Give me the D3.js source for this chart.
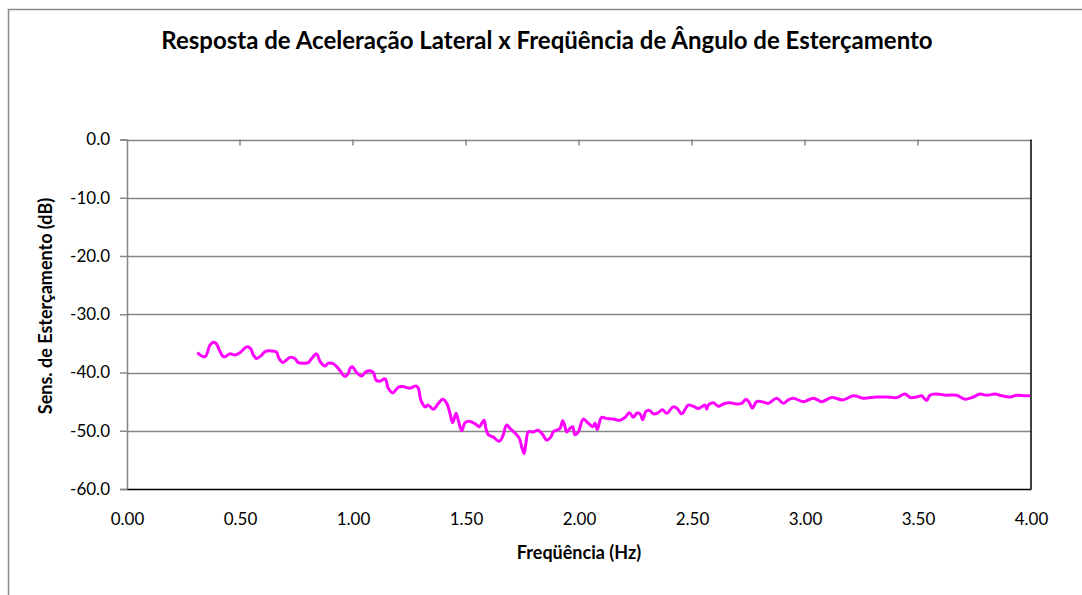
<!DOCTYPE html>
<html><head><meta charset="utf-8">
<script src="https://cdn.jsdelivr.net/npm/d3@7"></script>
<style>
html,body{margin:0;padding:0;background:#fff;}
svg{display:block;}
text{font-family:Lato,"Open Sans",sans-serif;fill:#000;}
</style></head>
<body>
<svg id="chart" width="1082" height="595"></svg>
<script>
const titleText = "Resposta de Aceleração Lateral x Freqüência de Ângulo de Esterçamento";
const xTitle = "Freqüência (Hz)";
const yTitle = "Sens. de Esterçamento (dB)";
const xTicks = [0, 0.5, 1.0, 1.5, 2.0, 2.5, 3.0, 3.5, 4.0];
const xTickLabels = ["0.00", "0.50", "1.00", "1.50", "2.00", "2.50", "3.00", "3.50", "4.00"];
const yTicks = [0, -10, -20, -30, -40, -50, -60];
const yTickLabels = ["0.0", "-10.0", "-20.0", "-30.0", "-40.0", "-50.0", "-60.0"];

const freq = [0.311,0.345,0.367,0.382,0.394,0.408,0.424,0.434,0.455,0.478,0.500,0.530,0.547,0.559,0.574,0.596,0.611,0.640,0.662,0.670,0.689,0.704,0.721,0.743,0.758,0.788,0.802,0.817,0.839,0.854,0.876,0.891,0.913,0.935,0.950,0.965,0.980,0.987,0.997,1.016,1.038,1.057,1.075,1.090,1.102,1.119,1.142,1.156,1.176,1.201,1.220,1.252,1.279,1.289,1.300,1.319,1.333,1.355,1.378,1.397,1.415,1.429,1.441,1.456,1.466,1.481,1.496,1.518,1.540,1.559,1.570,1.580,1.588,1.599,1.621,1.648,1.662,1.680,1.695,1.717,1.736,1.746,1.757,1.765,1.776,1.798,1.820,1.840,1.857,1.875,1.886,1.901,1.916,1.928,1.938,1.946,1.960,1.972,1.982,1.997,2.019,2.041,2.061,2.071,2.081,2.100,2.123,2.152,2.181,2.204,2.223,2.240,2.255,2.270,2.282,2.296,2.311,2.329,2.346,2.370,2.388,2.417,2.435,2.454,2.484,2.506,2.528,2.558,2.565,2.572,2.594,2.616,2.638,2.668,2.698,2.720,2.739,2.754,2.767,2.786,2.808,2.838,2.875,2.904,2.926,2.948,2.992,3.037,3.074,3.118,3.169,3.214,3.258,3.317,3.361,3.406,3.442,3.467,3.494,3.516,3.538,3.553,3.582,3.627,3.671,3.708,3.745,3.774,3.804,3.841,3.870,3.907,3.937,3.973,3.996];
const sens = [-36.6,-37.3,-35.3,-34.8,-35.0,-36.1,-37.2,-37.3,-36.8,-37.0,-36.6,-35.6,-35.9,-37.0,-37.6,-37.0,-36.4,-36.3,-36.5,-37.4,-38.3,-37.9,-37.4,-37.6,-38.3,-38.4,-38.3,-37.6,-36.8,-38.1,-38.9,-38.4,-38.5,-39.3,-40.1,-40.7,-40.1,-39.3,-39.0,-40.0,-40.6,-39.9,-39.7,-40.0,-41.3,-41.5,-41.1,-42.7,-43.5,-42.5,-42.4,-42.7,-42.3,-42.7,-44.7,-45.9,-45.6,-46.3,-45.3,-44.6,-45.3,-47.0,-48.6,-47.0,-48.2,-50.0,-48.6,-48.4,-48.8,-49.3,-48.7,-48.2,-49.6,-50.7,-51.1,-51.8,-51.0,-49.0,-49.6,-50.4,-51.3,-52.7,-53.9,-52.2,-50.2,-50.2,-49.9,-50.7,-51.6,-51.1,-50.2,-49.9,-49.6,-48.3,-49.3,-50.2,-49.6,-49.3,-50.7,-50.2,-48.0,-48.7,-49.3,-48.7,-49.8,-47.7,-47.9,-48.0,-48.2,-47.7,-46.9,-47.7,-47.0,-47.1,-48.1,-46.7,-46.5,-47.1,-47.0,-46.4,-47.0,-45.9,-46.2,-47.1,-45.6,-45.8,-46.2,-45.6,-46.3,-45.6,-45.2,-45.8,-45.4,-45.2,-45.4,-45.3,-44.6,-45.2,-46.1,-45.0,-45.0,-45.3,-44.4,-45.3,-44.7,-44.4,-45.0,-44.4,-45.0,-44.3,-44.7,-44.0,-44.4,-44.2,-44.2,-44.3,-43.7,-44.3,-44.2,-44.0,-44.8,-43.9,-43.7,-43.9,-43.9,-44.6,-44.2,-43.7,-43.9,-43.7,-44.0,-44.2,-43.9,-44.0,-44.0];

const svg = d3.select("#chart");
const L = 127, R = 1031, T = 139.5, B = 489;
const x = d3.scaleLinear().domain([0, 4]).range([L, R]);
const y = d3.scaleLinear().domain([-60, 0]).range([B, T]);

// outer chart border
svg.append("rect").attr("x", 8.5).attr("y", 9.5).attr("width", 1100).attr("height", 620)
  .attr("fill", "#fff").attr("stroke", "#8a8a8a").attr("stroke-width", 1.5);

// title
svg.append("text").attr("x", 547).attr("y", 49).attr("text-anchor", "middle")
  .attr("font-size", 24).attr("font-weight", "bold").text(titleText);

// gridlines
svg.append("g").selectAll("line").data(yTicks.filter(d => d > -60)).join("line")
  .attr("x1", L).attr("x2", R).attr("y1", d => Math.round(y(d)) + 0.5).attr("y2", d => Math.round(y(d)) + 0.5)
  .attr("stroke", "#868686").attr("stroke-width", 1.5);

// top ticks (inside, downward)
svg.append("g").selectAll("line").data(xTicks.slice(1, -1)).join("line")
  .attr("x1", d => x(d)).attr("x2", d => x(d)).attr("y1", T).attr("y2", T + 6)
  .attr("stroke", "#868686").attr("stroke-width", 1.5);

// right border
svg.append("line").attr("x1", R).attr("x2", R).attr("y1", T).attr("y2", B)
  .attr("stroke", "#000").attr("stroke-width", 1.5);

// y axis
const yAxis = svg.append("g").attr("transform", `translate(${L},0)`)
  .call(d3.axisLeft(y).tickValues(yTicks).tickSize(7).tickPadding(10)
    .tickFormat((d, i) => yTickLabels[i]));
yAxis.select(".domain").attr("stroke", "#868686").attr("stroke-width", 1.5);
yAxis.selectAll(".tick line").attr("stroke", "#868686").attr("stroke-width", 1.5);
yAxis.selectAll("text").attr("font-size", 17).attr("font-family", "Lato");

// x axis
const xAxis = svg.append("g").attr("transform", `translate(0,${B})`)
  .call(d3.axisBottom(x).tickValues(xTicks).tickSize(0).tickPadding(24)
    .tickFormat((d, i) => xTickLabels[i]));
xAxis.select(".domain").attr("stroke", "#000").attr("stroke-width", 1.5);
xAxis.selectAll("text").attr("font-size", 17).attr("font-family", "Lato");

// axis titles
svg.append("text").attr("x", 579).attr("y", 559).attr("text-anchor", "middle")
  .attr("font-size", 18).attr("font-weight", "bold").text(xTitle);
svg.append("text").attr("transform", "translate(52,306) rotate(-90)").attr("text-anchor", "middle")
  .attr("font-size", 18).attr("font-weight", "bold").text(yTitle);

// line
const line = d3.line().x((d, i) => x(freq[i])).y((d, i) => y(sens[i])).curve(d3.curveCatmullRom.alpha(0.5));
svg.append("path").datum(sens).attr("d", line).attr("fill", "none")
  .attr("stroke", "#ff00ff").attr("stroke-width", 3).attr("stroke-linejoin", "round");
</script>
</body></html>
